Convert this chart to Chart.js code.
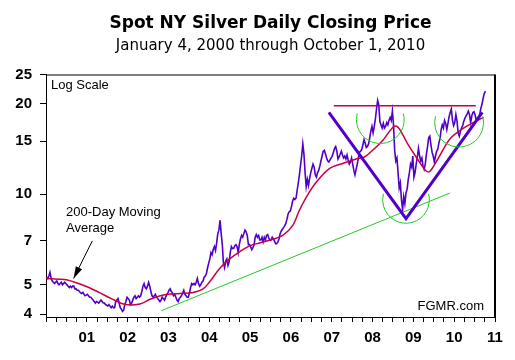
<!DOCTYPE html>
<html>
<head>
<meta charset="utf-8">
<script src="https://cdn.jsdelivr.net/npm/chart.js@4.4.0/dist/chart.umd.min.js"></script>
<style>
  html, body { margin: 0; padding: 0; background: #fff; }
</style>
</head>
<body>
<canvas id="chart" width="515" height="360"></canvas>
<script>
// Spot NY silver, three readings per month (early / mid / late)
const px2000 = [5.30,5.25,5.35, 5.50,5.25,5.15, 5.10,5.05,5.10, 5.15,5.05,5.00, 5.05,5.10,5.00, 5.05,5.10,5.05,
                5.00,4.95,4.90, 4.95,4.90,4.95, 4.95,4.85,4.85, 4.80,4.80,4.75, 4.70,4.68,4.72, 4.65,4.60,4.62];
const px2001 = [4.65,4.60,4.55, 4.55,4.50,4.45, 4.40,4.35,4.40, 4.38,4.35,4.40, 4.45,4.40,4.35, 4.35,4.30,4.28,
                4.25,4.30,4.25, 4.20,4.25,4.20, 4.20,4.40,4.45, 4.50,4.35,4.20, 4.15,4.08,4.12, 4.30,4.40,4.55];
const px2002 = [4.50,4.45,4.30, 4.35,4.45,4.55, 4.60,4.50,4.55, 4.60,4.55,4.60, 4.75,4.95,5.05, 4.90,4.85,4.95,
                5.10,4.95,4.75, 4.60,4.55,4.60, 4.65,4.55,4.50, 4.45,4.40,4.45, 4.55,4.50,4.45, 4.55,4.65,4.70];
const px2003 = [4.80,4.85,4.75, 4.70,4.60,4.65, 4.55,4.45,4.40, 4.50,4.55,4.60, 4.70,4.80,4.65, 4.60,4.55,4.55,
                4.70,4.90,5.05, 5.00,5.05,5.00, 5.10,5.25,5.05, 4.95,5.00,5.10, 5.15,5.30,5.35, 5.45,5.70,5.90];
const px2004 = [6.10,6.40,6.30, 6.55,6.70,6.50, 6.90,7.40,7.60, 8.20,7.40,6.80, 5.90,5.70,6.00, 6.10,5.80,5.95,
                6.40,6.70,6.60, 6.60,6.75,6.80, 6.70,6.40,6.80, 7.10,7.30,7.20, 7.40,7.60,7.50, 7.30,6.80,6.80];
const px2005 = [6.70,6.55,6.65, 6.80,7.20,7.35, 7.20,7.30,7.05, 7.05,7.20,6.95, 7.20,7.05,7.30, 7.35,7.15,7.05,
                7.05,7.20,7.10, 7.00,6.85,6.85, 6.95,7.10,7.40, 7.55,7.65,7.75, 7.85,8.00,8.25, 8.60,8.75,8.80];
const px2006 = [9.10,9.50,9.70, 9.60,9.70,10.3, 10.9,11.6,12.5, 13.4,14.7,13.6, 11.8,10.6,11.2, 10.7,11.3,11.8,
                12.2,12.6,12.3, 11.6,11.4,11.8, 12.0,12.4,12.9, 13.4,13.9,14.0, 13.6,13.2,12.9, 12.8,13.0,13.2];
const px2007 = [13.4,13.8,14.2, 14.4,13.9,13.1, 13.3,13.6,13.9, 13.5,13.2,13.4, 13.1,13.5,13.0, 12.6,12.8,13.2,
                12.6,12.0,11.6, 12.1,12.6,13.2, 13.8,13.9,14.1, 14.6,15.2,14.8, 14.3,14.4,14.7, 15.4,16.2,16.8];
const px2008 = [16.0,16.8,17.8, 19.2,20.5,19.8, 17.4,17.0,16.6, 17.2,16.6,16.8, 17.3,17.0,17.6, 18.0,17.6,18.9,
                17.0,14.0,12.9, 13.2,11.8,10.5, 10.9,9.60,8.90, 9.80,9.30,10.1, 10.4,11.2,11.8, 12.6,12.3,13.4];
const px2009 = [11.4,11.8,12.6, 13.3,14.2,13.4, 12.9,13.2,12.4, 12.1,12.6,13.6, 14.4,15.4,15.6, 14.6,13.8,13.4,
                12.8,13.4,13.9, 14.1,14.8,15.3, 16.4,17.0,16.6, 17.6,17.2,16.4, 17.2,18.1,18.7, 19.2,17.6,16.9];
const px2010 = [17.3,18.4,17.5, 16.0,15.6,16.2, 16.6,16.9,17.5, 17.9,18.2,18.5, 18.9,18.4,17.3, 18.2,18.7,18.8,
                18.3,17.6,17.9, 18.1,18.4,19.3, 19.9,20.8,21.6, 22.0];
const priceYears = [2000, 2001, 2002, 2003, 2004, 2005, 2006, 2007, 2008, 2009, 2010];
const priceByYear = [px2000, px2001, px2002, px2003, px2004, px2005, px2006, px2007, px2008, px2009, px2010];

// 200-day moving average, read at these dates
const maDates  = [2000.0, 2000.3, 2000.5, 2000.8, 2001.05, 2001.3, 2001.6, 2001.95, 2002.3, 2002.55, 2002.8, 2003.05,
                  2003.3, 2003.6, 2003.85, 2004.0, 2004.27, 2004.5, 2004.75, 2005.0, 2005.25, 2005.5, 2005.8, 2006.05,
                  2006.2, 2006.4, 2006.63, 2006.95, 2007.3, 2007.6, 2007.8, 2008.0, 2008.25, 2008.5, 2008.6, 2008.68,
                  2008.85, 2009.1, 2009.3, 2009.4, 2009.57, 2009.9, 2010.2, 2010.5, 2010.72];
const maValues = [5.25, 5.22, 5.20, 5.05, 4.90, 4.72, 4.50, 4.30, 4.32, 4.48, 4.60, 4.66,
                  4.68, 4.72, 4.85, 5.10, 5.70, 6.10, 6.45, 6.75, 6.90, 7.05, 7.30, 7.90,
                  8.80, 9.90, 11.0, 12.2, 12.7, 13.1, 13.3, 14.0, 15.1, 16.7, 16.8, 16.3,
                  14.8, 13.1, 12.0, 11.9, 12.9, 15.3, 16.5, 17.4, 18.0];

// hand-drawn annotations: V pattern, resistance, long trend line, cups
const vDates = [2006.93, 2008.82, 2010.69];
const vValues = [18.7, 8.3, 18.7];
const resistDates = [2007.05, 2010.53];
const resistValues = [19.7, 19.7];
const trendDates = [2002.82, 2009.9];
const trendValues = [4.1, 10.1];
const cupDates = [2008.19, 2008.82, 2010.12];
const cupValues = [17.7, 9.58, 17.3];
const cupHalfWidth = [0.585, 0.572, 0.598];

const yTicks = [4, 5, 7, 10, 15, 20, 25];
const xTickLabels = ['01','02','03','04','05','06','07','08','09','10','11'];

const PURPLE = '#5000c8';
const RED    = '#cc0040';
const GREEN  = '#22cc22';
const FONT   = "'Liberation Sans', Arial, sans-serif";
const WIDE   = "'DejaVu Sans', Verdana, sans-serif";

const priceData = [];
priceByYear.forEach((vals, k) => {
  vals.forEach((v, i) => priceData.push({ x: priceYears[k] + (i + 0.5) / 36, y: v }));
});
const zip = (xs, ys) => xs.map((x, i) => ({ x, y: ys[i] }));

const overlay = {
  id: 'overlay',
  afterDatasetsDraw(chart) {
    const { ctx, chartArea: a, scales: { x, y } } = chart;
    ctx.save();

    // top and right frame
    ctx.strokeStyle = '#000';
    ctx.lineWidth = 1;
    ctx.beginPath();
    ctx.moveTo(a.left, a.top + 0.5);
    ctx.lineTo(a.right, a.top + 0.5);
    ctx.stroke();
    ctx.lineWidth = 2;
    ctx.beginPath();
    ctx.moveTo(a.right, a.top);
    ctx.lineTo(a.right, a.bottom);
    ctx.stroke();

    // cups
    ctx.strokeStyle = GREEN;
    ctx.lineWidth = 1;
    cupDates.forEach((d, i) => {
      const cx = x.getPixelForValue(d);
      const cy = y.getPixelForValue(cupValues[i]);
      const r = x.getPixelForValue(d + cupHalfWidth[i]) - cx;
      ctx.beginPath();
      ctx.arc(cx, cy, r, -15 * Math.PI / 180, 195 * Math.PI / 180);
      ctx.stroke();
    });

    // arrow to the moving average
    const x0 = x.getPixelForValue(2001.135), y0 = y.getPixelForValue(7.0);
    const x1 = x.getPixelForValue(2000.676), y1 = y.getPixelForValue(5.25);
    const ang = Math.atan2(y1 - y0, x1 - x0);
    ctx.strokeStyle = '#000';
    ctx.fillStyle = '#000';
    ctx.lineWidth = 1;
    ctx.beginPath();
    ctx.moveTo(x0, y0);
    ctx.lineTo(x1, y1);
    ctx.stroke();
    ctx.beginPath();
    ctx.moveTo(x1, y1);
    ctx.lineTo(x1 - 12 * Math.cos(ang) + 3.5 * Math.sin(ang), y1 - 12 * Math.sin(ang) - 3.5 * Math.cos(ang));
    ctx.lineTo(x1 - 12 * Math.cos(ang) - 3.5 * Math.sin(ang), y1 - 12 * Math.sin(ang) + 3.5 * Math.cos(ang));
    ctx.closePath();
    ctx.fill();

    // texts
    ctx.font = '13px ' + FONT;
    ctx.textBaseline = 'middle';
    ctx.textAlign = 'left';
    ctx.fillText('Log Scale', a.left + 5, a.top + 11);
    ctx.fillText('200-Day Moving', a.left + 20, a.top + 138);
    ctx.fillText('Average', a.left + 20, a.top + 154);
    ctx.textAlign = 'right';
    ctx.fillText('FGMR.com', a.right - 11, a.bottom - 11);
    ctx.restore();
  }
};

new Chart(document.getElementById('chart'), {
  type: 'line',
  data: {
    datasets: [
      { label: 'V', data: zip(vDates, vValues), borderColor: PURPLE, borderWidth: 3 },
      { label: 'Resistance', data: zip(resistDates, resistValues), borderColor: RED, borderWidth: 1.5 },
      { label: 'Trend', data: zip(trendDates, trendValues), borderColor: GREEN, borderWidth: 1 },
      { label: '200-Day MA', data: zip(maDates, maValues), borderColor: RED, borderWidth: 1.5, tension: 0.35 },
      { label: 'Silver', data: priceData, borderColor: PURPLE, borderWidth: 1.6 }
    ]
  },
  options: {
    responsive: false,
    animation: false,
    parsing: false,
    elements: { point: { radius: 0 }, line: { fill: false } },
    layout: { padding: { top: 0, right: 20, bottom: 0, left: 0 } },
    plugins: {
      legend: { display: false },
      tooltip: { enabled: false },
      title: {
        display: true,
        fullSize: false,
        text: 'Spot NY Silver Daily Closing Price',
        color: '#000',
        font: { family: WIDE, size: 17, weight: 'bold' },
        padding: { top: 13.8, bottom: 3.3 }
      },
      subtitle: {
        display: true,
        fullSize: false,
        text: 'January 4, 2000 through October 1, 2010',
        color: '#000',
        font: { family: WIDE, size: 15 },
        padding: { top: 0, bottom: 19 }
      }
    },
    scales: {
      x: {
        type: 'linear',
        min: 2000,
        max: 2011,
        afterFit: s => { s.height = 43; },
        border: { color: '#000', width: 1 },
        grid: { drawOnChartArea: false, drawTicks: true, tickLength: 5, tickColor: '#000' },
        ticks: {
          stepSize: 0.25,
          autoSkip: false,
          maxRotation: 0,
          padding: 7,
          color: '#000',
          font: { family: FONT, size: 15, weight: 'bold' },
          callback: v => (Number.isInteger(v) && v > 2000) ? xTickLabels[v - 2001] : ''
        }
      },
      y: {
        type: 'logarithmic',
        min: 3.91,
        max: 25,
        afterFit: s => { s.width = 46; },
        afterBuildTicks: s => { s.ticks = yTicks.map(v => ({ value: v })); },
        border: { color: '#000', width: 1 },
        grid: { drawOnChartArea: false, drawTicks: true, tickLength: 6, tickColor: '#000' },
        ticks: {
          padding: 8,
          color: '#000',
          font: { family: FONT, size: 15, weight: 'bold' },
          callback: v => String(v)
        }
      }
    }
  },
  plugins: [overlay]
});
</script>
</body>
</html>
